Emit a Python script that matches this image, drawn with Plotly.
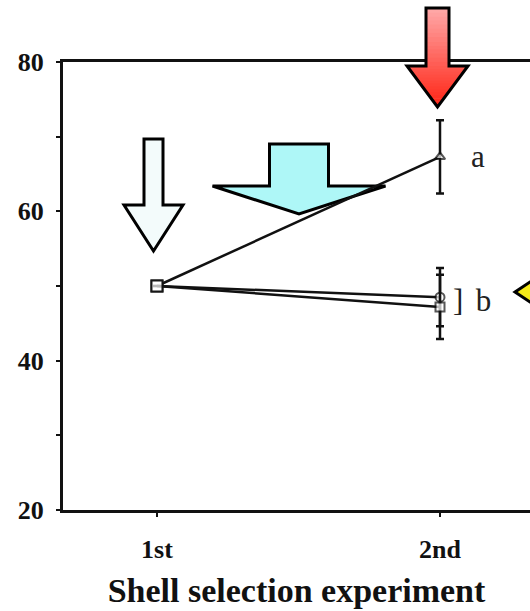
import plotly.graph_objects as go

# ---------------- data ----------------
categories = ["1st", "2nd"]
x_pos = [0, 1]
series_names = ["a (triangle)", "b (circle)", "b (square)"]
tri_values = [50, 67.3]
tri_err = [0, 4.9]
cir_values = [50, 48.5]
cir_err = [0, 3.9]
sq_values = [50, 47.2]
sq_err = [0, 4.3]
y_ticks = [20, 40, 60, 80]
x_title = "Shell selection experiment"

# ---------------- layout geometry ----------------
W, H = 530, 611
ML, MR, MT, MB = 63, 0, 62, 101
PW, PH = W - ML - MR, H - MT - MB
X_RANGE = [-0.332, 1.318]
FONT = "Liberation Serif"
INK = "#111111"


def px(x):
    return (x - ML) / PW


def py(y):
    return (H - MB - y) / PH


fig = go.Figure()

symbols = {
    "a (triangle)": ["square", "triangle-up"],
    "b (circle)": ["square", "circle"],
    "b (square)": ["square", "square"],
}
for name, vals, errs in [
    (series_names[0], tri_values, tri_err),
    (series_names[1], cir_values, cir_err),
    (series_names[2], sq_values, sq_err),
]:
    fig.add_trace(go.Scatter(
        x=x_pos, y=vals, name=name, mode="lines+markers",
        line=dict(color=INK, width=2.5),
        marker=dict(symbol=symbols[name], size=[11, 9], color="white",
                    line=dict(color=INK, width=2)),
        error_y=dict(type="data", array=errs, visible=True, color=INK,
                     thickness=2.5, width=4),
        showlegend=False, cliponaxis=False,
    ))

# ---------------- arrows (decorations) ----------------
shapes = []


def down_arrow(cx, sw, top, base, hw, tip, fill, lw=3, layer="above", grad=None):
    pts = [(cx - sw, top), (cx + sw, top), (cx + sw, base), (cx + hw, base),
           (cx, tip), (cx - hw, base), (cx - sw, base)]
    if grad is not None:
        c0, c1 = grad
        n1, n2 = 14, 14

        def col(y):
            t = (y - top) / (tip - top)
            return "rgb(%d,%d,%d)" % tuple(round(a + (b - a) * t) for a, b in zip(c0, c1))
        for i in range(n1):
            y0 = top + (base - top) * i / n1
            y1 = top + (base - top) * (i + 1) / n1 + 0.6
            p = f"M {px(cx-sw)},{py(y0)} L {px(cx+sw)},{py(y0)} L {px(cx+sw)},{py(y1)} L {px(cx-sw)},{py(y1)} Z"
            shapes.append(dict(type="path", xref="paper", yref="paper", path=p,
                               fillcolor=col((y0 + y1) / 2), line=dict(width=0), layer=layer))
        for i in range(n2):
            y0 = base + (tip - base) * i / n2
            y1 = min(base + (tip - base) * (i + 1) / n2 + 0.6, tip)
            w0 = hw * (tip - y0) / (tip - base)
            w1 = hw * (tip - y1) / (tip - base)
            p = f"M {px(cx-w0)},{py(y0)} L {px(cx+w0)},{py(y0)} L {px(cx+w1)},{py(y1)} L {px(cx-w1)},{py(y1)} Z"
            shapes.append(dict(type="path", xref="paper", yref="paper", path=p,
                               fillcolor=col((y0 + y1) / 2), line=dict(width=0), layer=layer))
        fill = "rgba(0,0,0,0)"
    path = "M " + " L ".join(f"{px(x)},{py(y)}" for x, y in pts) + " Z"
    shapes.append(dict(type="path", xref="paper", yref="paper", path=path,
                       fillcolor=fill, line=dict(color="black", width=lw), layer=layer))


def left_arrow(tipx, cy, base, hh, sh, end, fill, lw=3):
    pts = [(tipx, cy), (base, cy - hh), (base, cy - sh), (end, cy - sh),
           (end, cy + sh), (base, cy + sh), (base, cy + hh)]
    path = "M " + " L ".join(f"{px(x)},{py(y)}" for x, y in pts) + " Z"
    shapes.append(dict(type="path", xref="paper", yref="paper", path=path,
                       fillcolor=fill, line=dict(color="black", width=lw), layer="above"))


down_arrow(153.5, 9.5, 139, 205, 29.5, 251, "#f3fbfb")
down_arrow(299, 29.5, 144, 186, 86.5, 214, "#aef7f7", lw=3, layer="below")
down_arrow(437.5, 11.5, 8, 66, 30.5, 107, None,
           grad=((255, 170, 170), (255, 35, 20)))
left_arrow(515, 292, 545, 20, 9, 600, "#f5ea18")

fig.update_layout(
    width=W, height=H,
    margin=dict(l=ML, r=MR, t=MT, b=MB),
    paper_bgcolor="white", plot_bgcolor="rgba(0,0,0,0)",
    shapes=shapes,
    font=dict(family=FONT, color=INK),
    annotations=[
        dict(x=x_pos[1], y=tri_values[1], xref="x", yref="y", text="a",
             showarrow=False, xanchor="left", xshift=29, yshift=0,
             font=dict(family=FONT, size=31, color="#222222")),
        dict(x=x_pos[1], y=(cir_values[1] + sq_values[1]) / 2, xref="x", yref="y",
             text="]\u2009\u2009b", showarrow=False, xanchor="left", xshift=11, yshift=2,
             font=dict(family=FONT, size=31, color="#222222")),
    ],
)

fig.update_xaxes(
    range=X_RANGE, tickvals=x_pos, ticktext=categories,
    showline=True, linecolor=INK, linewidth=2.5, mirror=True,
    ticks="outside", ticklen=4, tickwidth=2, tickcolor=INK,
    showgrid=False, zeroline=False,
    tickfont=dict(family=FONT, size=26, color=INK, weight="bold"),
    ticklabelstandoff=10,
    title=dict(text=x_title, font=dict(family=FONT, size=34, color=INK, weight="bold"),
               standoff=16),
)
fig.update_yaxes(
    range=[20, 80], tickvals=y_ticks,
    showline=True, linecolor=INK, linewidth=3,
    ticks="outside", ticklen=4, tickwidth=2, tickcolor=INK,
    minor=dict(dtick=10, ticks="outside", ticklen=4, tickwidth=2, tickcolor=INK),
    showgrid=False, zeroline=False,
    tickfont=dict(family=FONT, size=26, color=INK, weight="bold"),
    ticklabelstandoff=7,
)

fig.write_html("out.html", config={"displayModeBar": False},
               post_script="document.body.style.margin='0';document.body.style.overflow='hidden';")
